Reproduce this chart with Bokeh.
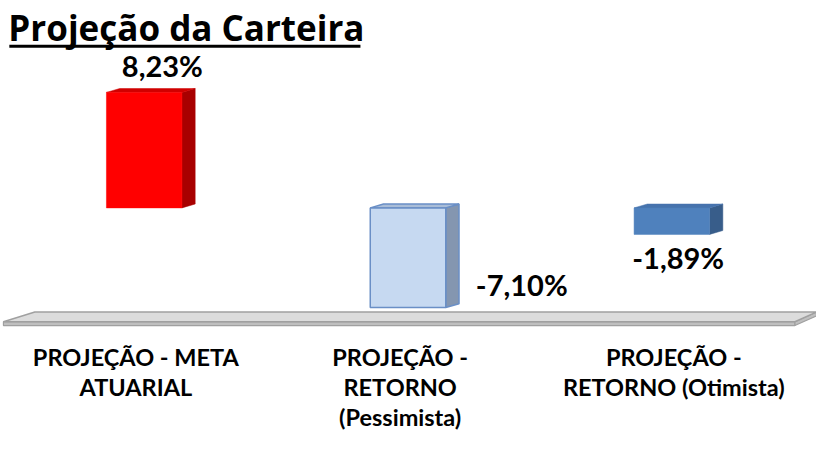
from bokeh.plotting import figure
from bokeh.models import Range1d
from bokeh.embed import file_html
from bokeh.resources import INLINE
from bokeh.core.properties import value

# ---- data ----
categories = ["PROJEÇÃO - META\nATUARIAL",
              "PROJEÇÃO -\nRETORNO\n(Pessimista)",
              "PROJEÇÃO -\nRETORNO (Otimista)"]
values = [8.23, -7.10, -1.89]
value_labels = ["8,23%", "-7,10%", "-1,89%"]
title_text = "Projeção da Carteira"

# ---- styles ----
front_colors = ["#ff0000", "#c6d9f1", "#4f81bd"]
side_colors = ["#a80000", "#8496b0", "#385d8a"]
top_colors = ["#d00000", "#a9bdd8", "#4673ad"]
edge_colors = [None, "#6a8fc6", None]
label_dx = [18.5, 116, 6.5]      # reference-pixel offsets of value labels
label_dy = [-15, -11, 36.5]
cat_dx = [-8.5, -8, 2]

W, H = 816, 436
KX, KY = W / 832.0, H / 452.0     # reference px -> canvas px
TEXT_FIX = 12                    # measured baseline correction (px)
X0, SX = 146.5 * KX, 269.0 * KX  # px of category 0, px per category
Y0, SY = 215.0 * KY, 14.55 * KY  # px of 0 %, px per %

def px(xr):   # reference px -> data x
    return (xr * KX - X0) / SX

def py(yr):   # reference px -> data y
    return (Y0 - yr * KY) / SY

p = figure(width=W, height=H, output_backend="svg", toolbar_location=None,
           x_range=Range1d(-X0 / SX, (W - X0) / SX),
           y_range=Range1d(-(H - Y0) / SY, Y0 / SY),
           min_border=0, outline_line_color=None)
p.axis.visible = False
p.grid.visible = False
p.background_fill_color = "white"
p.border_fill_color = "white"

FONT = value("Lato")

# ---- floor ----
floor_top_x = [px(35), px(832), px(810), px(3)]
floor_top_y = [py(323), py(323), py(333), py(333)]
floor_front_x = [px(3), px(810), px(810), px(3)]
floor_front_y = [py(333), py(333), py(337), py(337)]
floor_side_x = [px(810), px(832), px(832), px(810)]
floor_side_y = [py(333), py(323), py(327), py(337)]
p.patches([floor_front_x, floor_side_x], [floor_front_y, floor_side_y],
          fill_color="#bfbfbf", line_color="#a0a0a0", line_width=1.2)
p.patch(floor_top_x, floor_top_y, fill_color="#dcdcdc",
        line_color="#a0a0a0", line_width=1.5)

# ---- 3D bars ----
BW = 77 * KX / SX
DX = 13.5 * KX / SX
DY = 4.0 * KY / SY
for i, v in enumerate(values):
    lo, hi = min(0, v), max(0, v)
    l, r = i - BW / 2, i + BW / 2
    has_edge = edge_colors[i] is not None
    lc = edge_colors[i] if has_edge else front_colors[i]
    lw = 1.5 if has_edge else 0.5
    p.patch([r, r + DX, r + DX, r], [lo, lo + DY, hi + DY, hi],
            fill_color=side_colors[i], line_color=lc if has_edge else side_colors[i],
            line_width=lw)
    p.patch([l, l + DX, r + DX, r], [hi, hi + DY, hi + DY, hi],
            fill_color=top_colors[i], line_color=lc if has_edge else top_colors[i],
            line_width=lw)
    p.quad(left=[l], right=[r], bottom=[lo], top=[hi],
           fill_color=front_colors[i], line_color=lc, line_width=lw)

# ---- value labels ----
for i, v in enumerate(values):
    p.text(x=[i], y=[v], text=[value_labels[i]],
           x_offset=label_dx[i] * KX, y_offset=label_dy[i] * KY - TEXT_FIX,
           text_align="center", text_baseline="alphabetic",
           text_font=FONT, text_font_style="bold", text_font_size="29px",
           text_color="#000000")

# ---- category labels ----
for i, c in enumerate(categories):
    for j, line in enumerate(c.split("\n")):
        p.text(x=[i], y=[py(382 + 31 * j)], text=[line],
               x_offset=cat_dx[i] * KX, y_offset=-TEXT_FIX,
               text_align="center", text_baseline="alphabetic",
               text_font=FONT, text_font_style="bold", text_font_size="23.5px",
               text_color="#000000")

# ---- title ----
p.text(x=[px(8)], y=[py(40)], text=[title_text], y_offset=-TEXT_FIX,
       text_align="left", text_baseline="alphabetic",
       text_font=value("Open Sans"), text_font_style="bold",
       text_font_size="35px", text_color="#000000")
p.quad(left=[px(9)], right=[px(367)], bottom=[py(49)], top=[py(46)],
       fill_color="#000000", line_color=None)

open("out.html", "w").write(file_html(p, INLINE))
